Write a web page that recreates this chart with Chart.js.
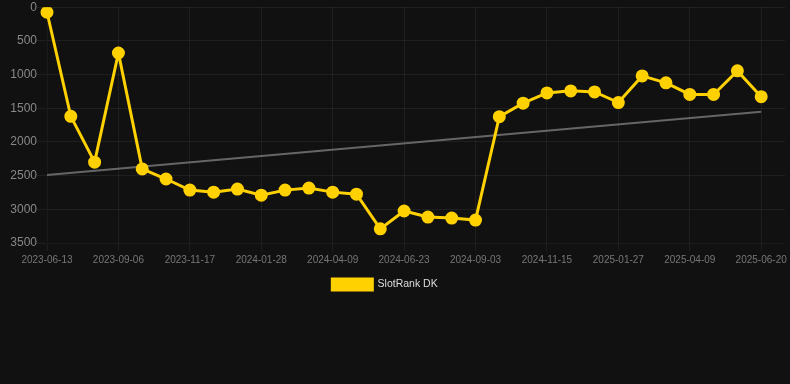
<!DOCTYPE html>
<html>
<head>
<meta charset="utf-8">
<script src="https://cdn.jsdelivr.net/npm/chart.js@4/dist/chart.umd.min.js"></script>
<style>
  html, body { margin: 0; padding: 0; background: #111111; overflow: hidden; }
  #wrap { position: relative; width: 790px; height: 300px; }
</style>
</head>
<body>
<div id="wrap"><canvas id="rankChart"></canvas></div>
<script>
const dates = [
  '2023-06-13', '2023-07-11', '2023-08-08', '2023-09-06', '2023-09-30', '2023-10-24',
  '2023-11-17', '2023-12-11', '2024-01-04', '2024-01-28', '2024-02-21', '2024-03-16',
  '2024-04-09', '2024-05-04', '2024-05-29', '2024-06-23', '2024-07-17', '2024-08-10',
  '2024-09-03', '2024-09-27', '2024-10-21', '2024-11-15', '2024-12-09', '2025-01-03',
  '2025-01-27', '2025-02-20', '2025-03-16', '2025-04-09', '2025-05-03', '2025-05-27',
  '2025-06-20', '2025-07-14'
];
const rankDK = [
  75, 1620, 2300, 680, 2400, 2550,
  2715, 2745, 2700, 2790, 2715, 2685,
  2745, 2775, 3290, 3025, 3115, 3130,
  3160, 1625, 1425, 1272, 1242, 1258,
  1415, 1020, 1122, 1295, 1295, 945,
  1328, null
];
const trendStart = 2490;
const trendEnd = 1552;
const yTicks = { min: 0, max: 3500, step: 500 };

const trendData = [
  { x: dates[0], y: trendStart },
  { x: dates[30], y: trendEnd }
];

const ctx = document.getElementById('rankChart').getContext('2d');
const chart = new Chart(ctx, {
  type: 'line',
  data: {
    labels: dates,
    datasets: [
      {
        label: 'SlotRank DK',
        data: rankDK,
        borderColor: '#FFD100',
        backgroundColor: '#FFD100',
        borderWidth: 3,
        pointRadius: 5,
        pointHoverRadius: 6,
        pointBackgroundColor: '#FFD100',
        pointBorderColor: '#FFD100',
        tension: 0,
        fill: false,
        order: 1
      },
      {
        label: 'trend',
        data: trendData,
        borderColor: '#666666',
        borderWidth: 2,
        pointRadius: 0,
        fill: false,
        order: 2
      }
    ]
  },
  options: {
    responsive: true,
    maintainAspectRatio: false,
    animation: false,
    layout: { autoPadding: false, padding: { left: -15, right: 5, top: 0, bottom: 0 } },
    plugins: {
      tooltip: { enabled: false },
      legend: {
        position: 'bottom',
        labels: {
          color: '#dddddd',
          font: { size: 10.5, family: 'Arial, Helvetica, sans-serif' },
          boxWidth: 40,
          boxHeight: 11,
          filter: item => item.text !== 'trend'
        }
      }
    },
    scales: {
      x: {
        grid: {
          color: c => (c.index % 3 === 0 ? 'rgba(255,255,255,0.06)' : 'rgba(0,0,0,0)')
        },
        ticks: {
          autoSkip: false,
          maxRotation: 0,
          color: '#777777',
          font: { size: 10, family: 'Arial, Helvetica, sans-serif' },
          callback: function(value, index) {
            return index % 3 === 0 ? this.getLabelForValue(value) : '';
          }
        }
      },
      y: {
        reverse: true,
        min: yTicks.min,
        max: yTicks.max,
        afterFit: scale => { scale.width = 62; },
        grid: { color: 'rgba(255,255,255,0.06)', tickLength: 10 },
        ticks: {
          stepSize: yTicks.step,
          padding: 0,
          color: '#888888',
          font: { size: 12, family: 'Arial, Helvetica, sans-serif' },
          callback: v => String(v)
        }
      }
    }
  }
});
</script>
</body>
</html>
